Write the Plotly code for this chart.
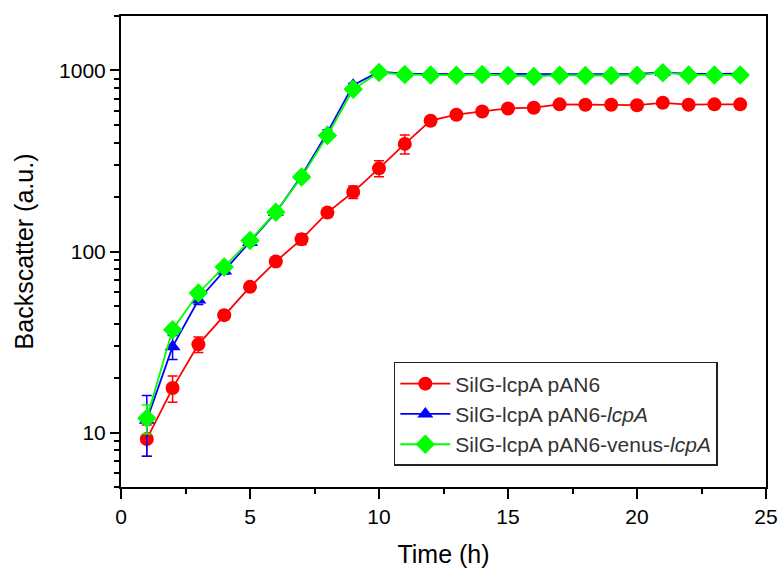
import plotly.graph_objects as go

time_h = list(range(1, 25))

red_vals = [9.2, 17.6, 30.7, 44.5, 63.8, 88, 117, 164, 213, 288, 393, 528,
            570, 594, 617, 623, 650, 647, 647, 643, 663, 647, 650, 650]
red_err = [1.8, 2.9, 3.0, 2.5, 3.5, 3.0, 8, 10, 17, 29, 47, 28,
           10, 8, 8, 8, 8, 8, 8, 8, 8, 8, 8, 8]

blue_vals = [11.7, 29.8, 54, 78, 112, 164, 262, 455, 830, 985, 960, 955,
             955, 958, 955, 950, 955, 955, 955, 958, 975, 958, 958, 962]
blue_err = [4.3, 4.5, 3, 3, 4, 5, 10, 15, 20, 15, 10, 10,
            10, 10, 10, 10, 10, 10, 10, 10, 10, 10, 10, 10]

green_vals = [12, 37, 59, 82, 115, 165, 258, 437, 787, 975, 950, 945,
              942, 950, 938, 927, 942, 938, 938, 942, 972, 945, 945, 945]
green_err = [2.2, 2, 2, 2, 3, 4, 8, 10, 15, 15, 10, 10,
             10, 10, 10, 10, 10, 10, 10, 10, 10, 10, 10, 10]

names = ["SilG-lcpA pAN6", "SilG-lcpA pAN6-<i>lcpA</i>", "SilG-lcpA pAN6-venus-<i>lcpA</i>"]

y_major = [10, 100, 1000]
y_minor = [5, 6, 7, 8, 9, 20, 30, 40, 50, 60, 70, 80, 90,
           200, 300, 400, 500, 600, 700, 800, 900, 2000]
x_major = [0, 5, 10, 15, 20, 25]
x_minor = [2.5, 7.5, 12.5, 17.5, 22.5]

fig = go.Figure()

series = [
    (red_vals, red_err, "#FF0000", "circle", 14, names[0]),
    (blue_vals, blue_err, "#0000FF", "triangle-up", 14, names[1]),
    (green_vals, green_err, "#00FF00", "diamond", 15, names[2]),
]
for vals, err, col, sym, size, nm in series:
    fig.add_trace(go.Scatter(
        x=time_h, y=vals, name=nm, mode="lines+markers",
        line=dict(color=col, width=1.8),
        marker=dict(color=col, symbol=sym, size=size, line=dict(width=0)),
        error_y=dict(type="data", array=err, color=col, thickness=1.5, width=5),
    ))

fig.update_layout(
    width=778, height=574,
    margin=dict(l=121, r=12, t=16, b=87),
    plot_bgcolor="white", paper_bgcolor="white",
    font=dict(family="Liberation Sans, Arial, sans-serif", size=21, color="black"),
    showlegend=True,
    legend=dict(
        x=0.423, y=0.2654, xanchor="left", yanchor="top",
        bgcolor="white", bordercolor="#222222", borderwidth=1.5,
        font=dict(size=21, color="#333333"),
        tracegroupgap=0, itemwidth=50, entrywidth=345, entrywidthmode="pixels",
    ),
)

fig.update_xaxes(
    range=[0, 25], tickvals=x_major, ticks="outside", ticklen=10, tickwidth=1.5,
    tickcolor="black", showline=True, linewidth=2, linecolor="black", mirror=True,
    showgrid=False, zeroline=False, automargin=False,
    minor=dict(tickvals=x_minor, ticks="outside", ticklen=5,
               tickwidth=1.5, tickcolor="black"),
    title=dict(text="Time (h)", standoff=18),
    tickfont=dict(size=21),
)
fig.update_yaxes(
    type="log", range=[0.699, 3.301], tickvals=y_major, ticktext=["10", "100", "1000"],
    ticks="outside", ticklen=9, tickwidth=1.5, tickcolor="black",
    showline=True, linewidth=2, linecolor="black", mirror=True,
    showgrid=False, zeroline=False, automargin=False,
    minor=dict(tickvals=y_minor, ticks="outside", ticklen=5, tickwidth=1.5,
               tickcolor="black"),
    title=dict(text="Backscatter (a.u.)", standoff=18),
    tickfont=dict(size=21),
)

fig.write_html("out.html",
               config={"displayModeBar": False},
               post_script="document.body.style.margin='0';document.body.style.overflow='hidden';")
